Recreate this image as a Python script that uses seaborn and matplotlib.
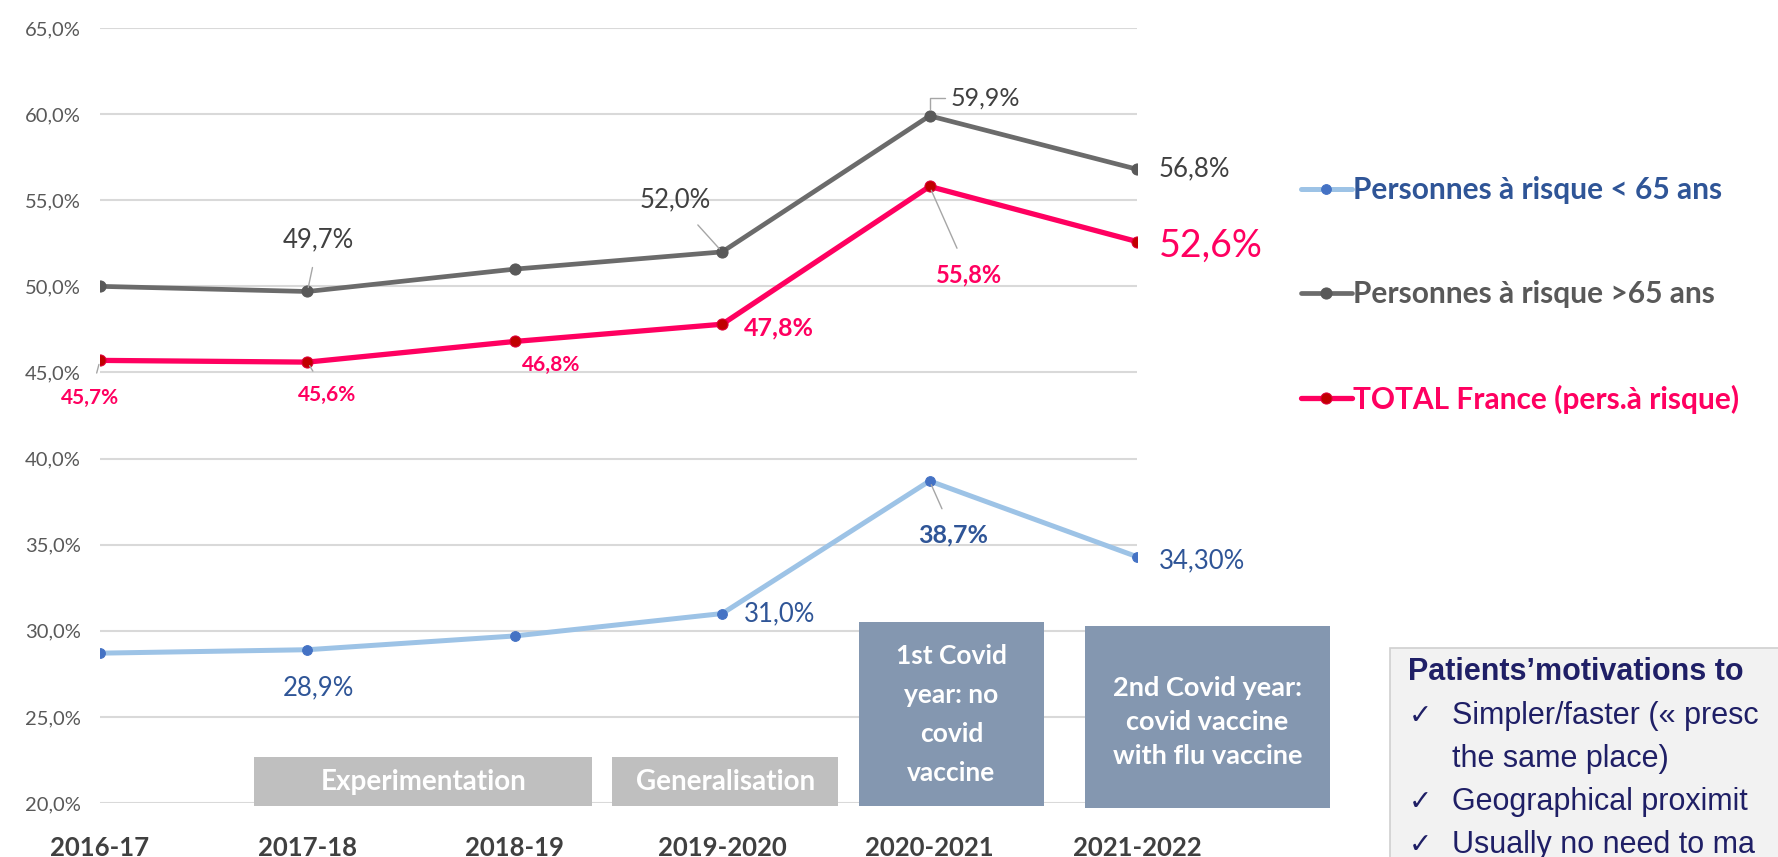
import matplotlib
matplotlib.use("Agg")
import matplotlib.pyplot as plt
from matplotlib.patches import Rectangle
from matplotlib.ticker import FuncFormatter
import seaborn as sns
import pandas as pd

# data
seasons = ["2016-17", "2017-18", "2018-19", "2019-2020", "2020-2021", "2021-2022"]
under65 = [28.7, 28.9, 29.7, 31.0, 38.7, 34.3]
over65 = [50.0, 49.7, 51.0, 52.0, 59.9, 56.8]
total = [45.7, 45.6, 46.8, 47.8, 55.8, 52.6]
series_names = ["Personnes à risque < 65 ans", "Personnes à risque >65 ans",
                "TOTAL France (pers.à risque)"]
phases = ["Experimentation", "Generalisation",
          "1st Covid\nyear: no\ncovid\nvaccine",
          "2nd Covid year:\ncovid vaccine\nwith flu vaccine"]
# the panel on the right is cut by the slide edge in the original
motivation_title = "Patients\u2019motivations to"
motivation_lines = [(True, "Simpler/faster (\u00ab presc"),
                    (False, "the same place)"),
                    (True, "Geographical proximit"),
                    (True, "Usually no need to ma")]

sns.set_theme(style="white")
plt.rcParams["font.family"] = ["Lato", "DejaVu Sans"]

W, H = 1778, 857
fig = plt.figure(figsize=(W / 100, H / 100), dpi=100)
ax = fig.add_axes([100 / W, 1 - 803 / H, 1037 / W, 775 / H])

styles = [
    dict(color="#9DC3E6", lw=3.6, marker="o", ms=7, mfc="#4472C4", mec="#4472C4"),
    dict(color="#6B6B6B", lw=3.4, marker="o", ms=8, mfc="#595959", mec="#595959"),
    dict(color="#FF0060", lw=3.8, marker="o", ms=8, mfc="#C00000", mec="#E0003A"),
]
df = pd.DataFrame({"season": seasons * 3,
                   "value": under65 + over65 + total,
                   "series": sum([[n] * len(seasons) for n in series_names], [])})
for name, st in zip(series_names, styles):
    sub = df[df["series"] == name]
    sns.lineplot(data=sub, x="season", y="value", ax=ax, label=name,
                 sort=False, **st)

ax.set_xlim(0, 5)
ax.set_ylim(20, 65)
ax.set_yticks(range(20, 66, 5))
ax.yaxis.set_major_formatter(FuncFormatter(lambda v, p: f"{v:.1f}%".replace(".", ",")))
ax.grid(axis="y", color="#D9D9D9", lw=1.5)
ax.set_axisbelow(True)
for s in ax.spines.values():
    s.set_visible(False)
ax.set_xlabel("")
ax.set_ylabel("")
ax.tick_params(axis="y", length=0, pad=14, labelsize=14.5, labelcolor="#595959")
ax.tick_params(axis="x", length=0, pad=24, labelsize=18.5, labelcolor="#404040")
for t in ax.get_xticklabels():
    t.set_fontweight("bold")

# data labels: (series values, index, text offset px, ha, colour, size, weight, leader)
PINK, GREY, BLUE = "#FF0060", "#404040", "#2F5597"
labels = [
    (total, 0, (-10, -38), "center", PINK, 15, "bold", "line"),
    (total, 1, (20, -33), "center", PINK, 15, "bold", "line"),
    (total, 2, (36, -24), "center", PINK, 15, "bold", None),
    (total, 3, (22, -4), "left", PINK, 18, "bold", None),
    (total, 4, (39, -88), "center", PINK, 17, "bold", "line"),
    (total, 5, (22, -4), "left", PINK, 27, "normal", None),
    (over65, 1, (11, 52), "center", GREY, 18.5, "normal", "line"),
    (over65, 3, (-47, 52), "center", GREY, 18.5, "normal", "line"),
    (over65, 4, (21, 18), "left", GREY, 18, "normal", "elbow"),
    (over65, 5, (22, 0), "left", GREY, 18.5, "normal", None),
    (under65, 1, (11, -38), "center", BLUE, 18.5, "normal", None),
    (under65, 3, (22, 0), "left", BLUE, 18.5, "normal", None),
    (under65, 4, (24, -54), "center", BLUE, 18, "bold", "line"),
    (under65, 5, (22, -4), "left", BLUE, 18.5, "normal", None),
]
for vals, i, off, ha, col, size, weight, leader in labels:
    v = vals[i]
    digits = 2 if (vals is under65 and i == 5) else 1
    txt = f"{v:.{digits}f}%".replace(".", ",")
    arrow = None
    if leader == "line":
        arrow = dict(arrowstyle="-", color="#A6A6A6", lw=1, shrinkA=9, shrinkB=3)
    elif leader == "elbow":
        arrow = dict(arrowstyle="-", color="#A6A6A6", lw=1, shrinkA=2, shrinkB=5,
                     connectionstyle="angle,angleA=0,angleB=90,rad=0")
    ax.annotate(txt, (i, v), xytext=off, textcoords="offset pixels",
                ha=ha, va="center", color=col, fontsize=size, fontweight=weight,
                arrowprops=arrow, annotation_clip=False)

# phase boxes (data coordinates) with text size and line spacing
boxes = [
    (0.743, 19.8, 1.63, 2.85, "#BFBFBF", 20, 1.2, 0.0),
    (2.47, 19.8, 1.09, 2.85, "#BFBFBF", 20, 1.2, 0.0),
    (3.66, 19.8, 0.89, 10.7, "#8497B0", 19, 1.74, 0.0),
    (4.75, 19.7, 1.18, 10.6, "#8497B0", 19.5, 1.5, -0.3),
]
for (x0, y0, w, h, fc, fs, ls, dy), txt in zip(boxes, phases):
    ax.add_patch(Rectangle((x0, y0), w, h, facecolor=fc, edgecolor="none",
                           clip_on=False, zorder=4))
    ax.text(x0 + w / 2, y0 + h / 2 + dy, txt, ha="center", va="center",
            color="white", fontsize=fs, fontweight="bold", linespacing=ls,
            zorder=5, clip_on=False)

# legend
leg = fig.legend(*ax.get_legend_handles_labels(), loc="center left",
                 bbox_to_anchor=(1286 / W, 1 - 295 / H), frameon=False,
                 fontsize=21.5, handlelength=1.7, handletextpad=0.05,
                 labelspacing=2.55, borderpad=0)
for t, c in zip(leg.get_texts(), [BLUE, "#595959", PINK]):
    t.set_color(c)
    t.set_fontweight("bold")
ax.get_legend().remove()

# motivations panel, cut by the right edge
NAVY = "#1F1F66"
ARIAL = ["Liberation Sans", "DejaVu Sans"]
fig.patches.append(Rectangle((1390 / W, -0.05), 0.5, 0.05 + 1 - 648 / H,
                             transform=fig.transFigure, facecolor="#F2F2F2",
                             edgecolor="#D0D0D0", lw=1.2))
fig.text(1408 / W, 1 - 672 / H, motivation_title, ha="left", va="center",
         fontsize=22, fontweight="bold", color=NAVY, family=ARIAL)
for k, (tick, line) in enumerate(motivation_lines):
    y = 1 - (716 + 43 * k) / H
    if tick:
        fig.text(1409 / W, y, "\u2713", ha="left", va="center", fontsize=20,
                 color=NAVY, family=["DejaVu Sans"])
    fig.text(1452 / W, y, line, ha="left", va="center", fontsize=22,
             color=NAVY, family=ARIAL)

fig.savefig("out.png", dpi=100)
